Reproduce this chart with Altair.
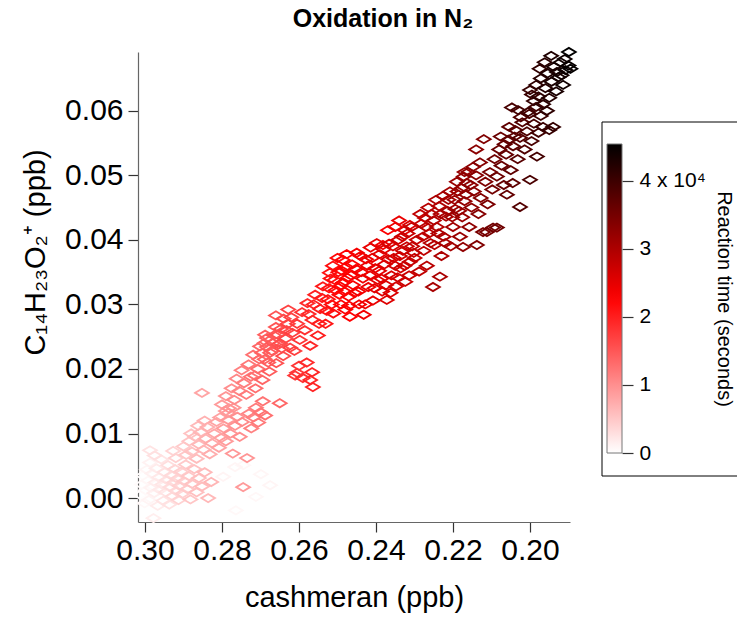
import altair as alt
import pandas as pd

# ---- data (cashmeran ppb, C14H23O2+ ppb, reaction time s) ----
cashmeran = [
    0.3012, 0.3008, 0.3005, 0.3001, 0.2998, 0.2995, 0.2992, 0.2990, 0.2987, 0.2984,
    0.2981, 0.2978, 0.2976, 0.2973, 0.2970, 0.2967, 0.2964, 0.2961, 0.2958, 0.2955,
    0.2952, 0.2949, 0.2946, 0.2943, 0.2940, 0.2937, 0.2934, 0.2931, 0.2928, 0.2925,
    0.2922, 0.2919, 0.2916, 0.2913, 0.2910, 0.2906, 0.2902, 0.2898, 0.2894, 0.2890,
    0.2886, 0.2882, 0.2878, 0.2872, 0.2866, 0.2860, 0.2852, 0.2845, 0.2836, 0.2828,
    0.2699, 0.2675, 0.2712, 0.2764, 0.2745, 0.2797, 0.2766, 0.2745,
    0.2987, 0.2975, 0.2927, 0.2920, 0.2900, 0.2893, 0.2885, 0.2878, 0.2870, 0.2866,
    0.2860, 0.2855, 0.2848, 0.2842, 0.2838, 0.2832, 0.2826, 0.2820, 0.2814, 0.2808,
    0.2802, 0.2796, 0.2790, 0.2784, 0.2778, 0.2772, 0.2766, 0.2760, 0.2754, 0.2748,
    0.2735, 0.2730, 0.2724, 0.2718, 0.2712, 0.2706, 0.2700, 0.2694, 0.2688, 0.2852,
    0.2784, 0.2650,
    0.2800, 0.2790, 0.2782, 0.2775, 0.2768, 0.2762, 0.2755, 0.2749, 0.2743, 0.2737,
    0.2731, 0.2725, 0.2719, 0.2713, 0.2707, 0.2701, 0.2695, 0.2689, 0.2683, 0.2677,
    0.2671, 0.2665, 0.2659, 0.2653, 0.2647, 0.2641, 0.2635, 0.2629, 0.2623, 0.2617,
    0.2688, 0.2655, 0.2683, 0.2675, 0.2696, 0.2649, 0.2610, 0.2600, 0.2590, 0.2580,
    0.2571, 0.2564, 0.2566, 0.2605,
    0.2660, 0.2640, 0.2628, 0.2612, 0.2605, 0.2598, 0.2592, 0.2585, 0.2578, 0.2571,
    0.2565, 0.2558, 0.2551, 0.2545, 0.2538, 0.2531, 0.2525, 0.2518, 0.2511, 0.2505,
    0.2498, 0.2491, 0.2485, 0.2478, 0.2471, 0.2465,
    0.2520, 0.2512, 0.2500, 0.2493, 0.2486, 0.2480, 0.2474, 0.2468, 0.2462, 0.2456,
    0.2450, 0.2444, 0.2438, 0.2432, 0.2426, 0.2420, 0.2414, 0.2408, 0.2402, 0.2396,
    0.2390, 0.2384, 0.2378, 0.2372, 0.2366, 0.2360, 0.2354, 0.2348, 0.2342, 0.2336,
    0.2330, 0.2324, 0.2318, 0.2312, 0.2306, 0.2340, 0.2350,
    0.2369, 0.2382, 0.2325, 0.2312, 0.2300, 0.2294, 0.2288, 0.2282, 0.2276, 0.2273,
    0.2268, 0.2262, 0.2256, 0.2252, 0.2248, 0.2242, 0.2236, 0.2234, 0.2230, 0.2224,
    0.2218, 0.2212, 0.2206, 0.2200, 0.2194, 0.2188, 0.2182, 0.2176, 0.2174, 0.2170,
    0.2164, 0.2158, 0.2152, 0.2146, 0.2140, 0.2138, 0.2134, 0.2128, 0.2122, 0.2116,
    0.2110, 0.2096, 0.2086, 0.2140, 0.2130, 0.2148, 0.2120, 0.2170,
    0.2026, 0.2060, 0.2045, 0.2112, 0.2104, 0.2098, 0.2092, 0.2086, 0.2080, 0.2074,
    0.2068, 0.2062, 0.2056, 0.2050, 0.2044, 0.2038, 0.2032, 0.2026, 0.2020, 0.2014,
    0.2008, 0.2002, 0.1996, 0.1990, 0.1984, 0.1978, 0.1972, 0.1966, 0.1950, 0.1940,
    0.1982, 0.2000,
    0.2047, 0.2031, 0.2005, 0.2000, 0.1990, 0.1984, 0.1978, 0.1972, 0.1966, 0.1960,
    0.1954, 0.1950, 0.1944, 0.1938, 0.1932, 0.1926, 0.1920, 0.1914, 0.1908, 0.1900,
    0.1895, 0.1899,
    # additional points in the dense middle and upper parts
    0.2575, 0.2562, 0.2548, 0.2540, 0.2528, 0.2522, 0.2515, 0.2508, 0.2495, 0.2488,
    0.2482, 0.2476, 0.2470, 0.2460, 0.2452, 0.2446, 0.2440, 0.2434, 0.2428, 0.2422,
    0.2416, 0.2410, 0.2404, 0.2398, 0.2392, 0.2386, 0.2380, 0.2374, 0.2368, 0.2362,
    0.2356, 0.2350, 0.2344, 0.2338, 0.2332, 0.2326, 0.2320, 0.2314, 0.2308, 0.2302,
    0.2285, 0.2278, 0.2270, 0.2264, 0.2258, 0.2250, 0.2244, 0.2238, 0.2232, 0.2226,
    0.2220, 0.2214, 0.2208, 0.2202, 0.2196, 0.2190, 0.2184, 0.2178, 0.2172, 0.2166,
    0.2160, 0.2154,
    0.2076, 0.2066, 0.2054, 0.2040, 0.2024, 0.1995, 0.1975, 0.1962, 0.1956, 0.1945,
    0.1930, 0.1918, 0.1910,
    0.2715, 0.2703, 0.2690, 0.2680, 0.2668, 0.2660, 0.2645, 0.2632, 0.2620,
    0.2880, 0.2862, 0.2845, 0.2805, 0.2790, 0.2770,
]

c14h23o2 = [
    0.0005, 0.0021, 0.0035, -0.0008, 0.0012, 0.0044, 0.0027, -0.0003, 0.0055, 0.0016,
    0.0038, -0.0031, 0.0008, 0.0024, 0.0046, -0.0012, 0.0032, 0.0013, 0.0060, 0.0021,
    -0.0004, 0.0040, 0.0009, 0.0028, 0.0051, -0.0010, 0.0017, 0.0035, 0.0003, 0.0024,
    0.0045, 0.0011, 0.0030, -0.0003, 0.0019, 0.0041, 0.0007, 0.0026, 0.0052, 0.0014,
    0.0034, -0.0002, 0.0022, 0.0045, 0.0009, 0.0031, 0.0018, 0.0040, 0.0000, 0.0025,
    0.0037, 0.0020, 0.0002, -0.0019, 0.0051, 0.0033, 0.0048, 0.0017,
    0.0074, 0.0066, 0.0073, 0.0062, 0.0080, 0.0067, 0.0088, 0.0072, 0.0095, 0.0061,
    0.0083, 0.0102, 0.0075, 0.0092, 0.0110, 0.0068, 0.0085, 0.0100, 0.0118, 0.0078,
    0.0093, 0.0108, 0.0088, 0.0121, 0.0100, 0.0069, 0.0112, 0.0126, 0.0095, 0.0118,
    0.0062, 0.0131, 0.0108, 0.0125, 0.0140, 0.0117, 0.0133, 0.0150, 0.0128, 0.0163,
    0.0132, 0.0147,
    0.0145, 0.0158, 0.0139, 0.0170, 0.0152, 0.0185, 0.0166, 0.0198, 0.0178, 0.0160,
    0.0207, 0.0188, 0.0222, 0.0170, 0.0200, 0.0235, 0.0183, 0.0215, 0.0248, 0.0196,
    0.0228, 0.0252, 0.0209, 0.0238, 0.0262, 0.0220, 0.0247, 0.0270, 0.0233, 0.0256,
    0.0253, 0.0253, 0.0234, 0.0225, 0.0225, 0.0240, 0.0190, 0.0205, 0.0186, 0.0210,
    0.0183, 0.0172, 0.0195, 0.0194,
    0.0283, 0.0278, 0.0292, 0.0228, 0.0270, 0.0245, 0.0288, 0.0260, 0.0302, 0.0236,
    0.0276, 0.0315, 0.0252, 0.0293, 0.0328, 0.0270, 0.0308, 0.0340, 0.0286, 0.0322,
    0.0350, 0.0300, 0.0334, 0.0358, 0.0312, 0.0345,
    0.0349, 0.0360, 0.0372, 0.0328, 0.0369, 0.0292, 0.0341, 0.0281, 0.0362, 0.0318,
    0.0380, 0.0300, 0.0350, 0.0284, 0.0370, 0.0327, 0.0388, 0.0306, 0.0356, 0.0338,
    0.0378, 0.0320, 0.0362, 0.0307, 0.0394, 0.0345, 0.0372, 0.0328, 0.0400, 0.0356,
    0.0383, 0.0335, 0.0410, 0.0366, 0.0390, 0.0430, 0.0420,
    0.0415, 0.0392, 0.0415, 0.0423, 0.0372, 0.0400, 0.0351, 0.0425, 0.0383, 0.0434,
    0.0360, 0.0410, 0.0440, 0.0327, 0.0392, 0.0420, 0.0452, 0.0343, 0.0375, 0.0405,
    0.0436, 0.0462, 0.0390, 0.0420, 0.0448, 0.0475, 0.0405, 0.0435, 0.0389, 0.0460,
    0.0488, 0.0420, 0.0450, 0.0475, 0.0500, 0.0392, 0.0440, 0.0465, 0.0412, 0.0490,
    0.0455, 0.0419, 0.0419, 0.0540, 0.0520, 0.0513, 0.0556, 0.0505,
    0.0451, 0.0470, 0.0488, 0.0412, 0.0505, 0.0478, 0.0525, 0.0498, 0.0540, 0.0515,
    0.0485, 0.0532, 0.0555, 0.0508, 0.0545, 0.0570, 0.0525, 0.0558, 0.0582, 0.0540,
    0.0568, 0.0595, 0.0553, 0.0580, 0.0606, 0.0566, 0.0592, 0.0575, 0.0570, 0.0575,
    0.0529, 0.0493,
    0.0605, 0.0601, 0.0598, 0.0632, 0.0615, 0.0640, 0.0622, 0.0650, 0.0610, 0.0635,
    0.0658, 0.0620, 0.0645, 0.0668, 0.0630, 0.0652, 0.0675, 0.0640, 0.0663, 0.0670,
    0.0665, 0.0691,
    0.0285, 0.0300, 0.0270, 0.0310, 0.0290, 0.0325, 0.0300, 0.0338, 0.0315, 0.0352,
    0.0320, 0.0378, 0.0298, 0.0330, 0.0355, 0.0320, 0.0375, 0.0340, 0.0300, 0.0360,
    0.0345, 0.0372, 0.0325, 0.0395, 0.0352, 0.0340, 0.0385, 0.0330, 0.0370, 0.0318,
    0.0390, 0.0360, 0.0342, 0.0375, 0.0405, 0.0360, 0.0390, 0.0345, 0.0420, 0.0380,
    0.0440, 0.0405, 0.0420, 0.0450, 0.0395, 0.0430, 0.0462, 0.0410, 0.0440, 0.0468,
    0.0395, 0.0445, 0.0475, 0.0435, 0.0462, 0.0490, 0.0445, 0.0480, 0.0498, 0.0470,
    0.0505, 0.0485,
    0.0560, 0.0548, 0.0575, 0.0560, 0.0590, 0.0625, 0.0665, 0.0675, 0.0600, 0.0685,
    0.0660, 0.0655, 0.0680,
    0.0190, 0.0215, 0.0240, 0.0210, 0.0240, 0.0265, 0.0232, 0.0260, 0.0280,
    0.0100, 0.0112, 0.0120, 0.0125, 0.0135, 0.0140,
]

reaction_time = [
    200, 400, 300, 600, 500, 900, 700, 1000, 1200, 1100,
    1300, 1500, 1400, 1600, 1800, 1700, 2000, 1900, 2300, 2200,
    2400, 2600, 2500, 2800, 3000, 2700, 3100, 3300, 3200, 3500,
    3700, 3600, 3900, 4000, 4200, 4400, 4300, 4600, 4800, 4700,
    5000, 5100, 5300, 5500, 5600, 5800, 6000, 6200, 6300, 6500,
    800, 900, 700, 600, 700, 1000, 900, 9000,
    2500, 2800, 3800, 4200, 4600, 4900, 5200, 5500, 5800, 6000,
    6300, 6500, 6700, 7000, 7200, 7300, 7600, 7800, 8100, 8200,
    8500, 8700, 8900, 9200, 9400, 9300, 9700, 10000, 10100, 10400,
    9500, 10900, 11100, 11400, 11700, 11900, 12200, 12500, 12700, 8000,
    9000, 13500,
    9000, 9400, 9700, 10000, 10300, 10700, 11000, 11300, 11600, 11800,
    12100, 12400, 12700, 12900, 13200, 13500, 13700, 14000, 14300, 14500,
    14800, 15100, 15300, 15600, 15900, 16100, 16400, 16700, 16900, 17200,
    14200, 15400, 14300, 14600, 14000, 15800, 17500, 18000, 18400, 18900,
    19200, 19500, 19300, 17800,
    15200, 16200, 16800, 17300, 17700, 18000, 18300, 18600, 19000, 19200,
    19500, 19800, 20000, 20300, 20600, 20800, 21100, 21400, 21600, 21900,
    22200, 22300, 22600, 22900, 23000, 23200,
    21200, 21500, 22000, 22300, 22500, 22400, 22800, 22700, 23100, 23200,
    23500, 23500, 23800, 23800, 24100, 24200, 24500, 24500, 24800, 25000,
    25200, 25300, 25600, 25600, 26000, 26100, 26400, 26500, 26800, 26900,
    27200, 27300, 27600, 27700, 28000, 24500, 24200,
    23000, 23500, 25500, 26000, 27800, 27800, 28200, 27800, 28400, 27500,
    28800, 28800, 28900, 30500, 29200, 29400, 29600, 30200, 30000, 30200,
    30400, 30700, 30800, 31000, 31300, 31600, 31700, 31900, 32500, 32200,
    32500, 32600, 32800, 33100, 33400, 34000, 33500, 33800, 34500, 34300,
    34400, 35200, 35600, 33000, 33600, 32800, 33900, 32000,
    38000, 36500, 37000, 35000, 34800, 35200, 35400, 35700, 35900, 36100,
    36300, 36500, 36800, 36900, 37200, 37500, 37600, 37900, 38200, 38300,
    38600, 38900, 39000, 39300, 39600, 39700, 40000, 40200, 40600, 40900,
    39400, 38800,
    39000, 39400, 40000, 40600, 40900, 41300, 41500, 41900, 41600, 42200,
    42600, 42300, 42900, 43300, 43100, 43600, 44000, 43900, 44400, 44800,
    45100, 45300,
    19100, 19600, 20100, 20500, 21000, 21200, 21500, 21700, 22100, 22400,
    22600, 22800, 23000, 23300, 23500, 23700, 23900, 24000, 24200, 24300,
    24500, 24700, 24800, 25000, 25200, 25400, 25500, 25700, 25900, 26000,
    26200, 26400, 26600, 26800, 27000, 27100, 27300, 27500, 27700, 27900,
    28300, 28500, 28800, 29000, 29200, 29500, 29700, 29900, 30100, 30300,
    30500, 30800, 31000, 31200, 31500, 31800, 32000, 32200, 32400, 32600,
    32800, 33000,
    36000, 36400, 36900, 37400, 38000, 40200, 41200, 41800, 41400, 42600,
    43200, 43800, 44200,
    12800, 13300, 13900, 14400, 14900, 15200, 15800, 16500, 17000,
    5400, 6200, 6900, 8300, 8800, 9500,
]

x_ticks = [0.30, 0.28, 0.26, 0.24, 0.22, 0.20]
y_ticks = [0.00, 0.01, 0.02, 0.03, 0.04, 0.05, 0.06]
cbar_ticks = [0, 10000, 20000, 30000, 40000]

df = pd.DataFrame({"x": cashmeran, "y": c14h23o2, "t": reaction_time})
df = df.sort_values("t", kind="stable").reset_index(drop=True)

FONT = "Liberation Sans"
W, H = 432, 470
diamond = "M-1,0L0,-0.6L1,0L0,0.6Z"

color_scale = alt.Scale(domain=[0, 22700, 45400],
                        range=["#ffffff", "#ff0000", "#000000"],
                        interpolate="rgb")

points = alt.Chart(df).mark_point(
    shape=diamond, filled=False, strokeWidth=1.8, size=190, opacity=1
).encode(
    x=alt.X("x:Q",
            scale=alt.Scale(domain=[0.18961, 0.30182], reverse=True, nice=False, zero=False),
            axis=alt.Axis(values=x_ticks, format=".2f", title="cashmeran (ppb)",
                          tickSize=10, labelPadding=3, titlePadding=18)),
    y=alt.Y("y:Q",
            scale=alt.Scale(domain=[-0.0037, 0.0691], nice=False, zero=False),
            axis=alt.Axis(values=y_ticks, format=".2f", title="C₁₄H₂₃O₂⁺ (ppb)",
                          tickSize=10, labelPadding=5, titlePadding=14, titleY=200)),
    color=alt.Color("t:Q", scale=color_scale, title=None,
                    legend=alt.Legend(orient="none", legendX=469, legendY=92,
                                      direction="vertical", gradientLength=309,
                                      gradientThickness=15, labelExpr="''", padding=0,
                                      gradientStrokeColor="#777777",
                                      gradientStrokeWidth=1)),
)

cbar_df = pd.DataFrame({"v": cbar_ticks})
cbar_axis = alt.Chart(cbar_df).mark_point(opacity=0).encode(
    y=alt.Y("v:Q",
            scale=alt.Scale(domain=[0, 45400], range=[401, 92], nice=False, zero=False),
            axis=alt.Axis(orient="right", offset=52, values=cbar_ticks,
                          labelExpr="datum.value == 40000 ? '4 x 10⁴' : format(datum.value / 10000, 'd')",
                          title="Reaction time (seconds)", titleAngle=90,
                          tickSize=11, labelPadding=6, titlePadding=8,
                          labelFontSize=21, titleFontSize=20, domain=False,
                          tickColor="#333333")),
)

frame = alt.Chart(pd.DataFrame({"a": [0]})).mark_rect(
    fillOpacity=0, stroke="black", strokeWidth=1
).encode(x=alt.value(464), x2=alt.value(620), y=alt.value(70), y2=alt.value(424))

chart = alt.layer(frame, points, cbar_axis).resolve_scale(
    y="independent"
).properties(
    width=W, height=H,
    autosize=alt.AutoSizeParams(type="none"),
    padding={"left": 138, "top": 52, "right": 167, "bottom": 95},
    title=alt.TitleParams("Oxidation in N₂", font=FONT, fontSize=25, fontWeight="bold",
                          anchor="middle", dx=29, offset=12, color="black"),
).configure_view(stroke=None).configure_axis(
    grid=False, labelFont=FONT, titleFont=FONT, labelFontSize=30, titleFontSize=29,
    titleFontWeight="normal", labelColor="black", titleColor="black",
    domainColor="#666666", tickColor="#333333", domainWidth=1.2, tickWidth=1.2,
)

chart.save("out.html", embed_options={"renderer": "svg", "actions": False})
